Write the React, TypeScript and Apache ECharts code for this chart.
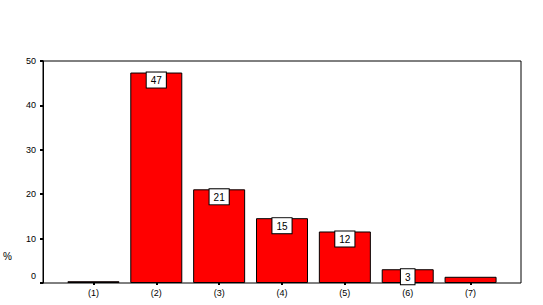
import React, { useEffect, useRef } from "react";
import * as echarts from "echarts";

const categories = ["(1)", "(2)", "(3)", "(4)", "(5)", "(6)", "(7)"];
const percentValues = [0.4, 47.4, 21.1, 14.6, 11.6, 3.1, 1.4];
const showLabel = [false, true, true, true, true, true, false];
const yTicks = { min: 0, max: 50, interval: 10 };

const FONT = "'Liberation Sans', Arial, sans-serif";

export default function App() {
  const ref = useRef<HTMLDivElement>(null);
  useEffect(() => {
    if (!ref.current) return;
    const chart = echarts.init(ref.current, null, { renderer: "svg" });
    chart.setOption({
      animation: false,
      backgroundColor: "#ffffff",
      textStyle: { fontFamily: FONT },
      grid: [
        {
          left: 43,
          top: 61,
          width: 478,
          height: 222,
          show: true,
          borderColor: "#000",
          borderWidth: 1,
          backgroundColor: "transparent",
        },
        { left: 62, top: 61, width: 440, height: 222 },
      ],
      xAxis: [
        { gridIndex: 0, type: "value", show: false, min: 0, max: 1 },
        {
          gridIndex: 1,
          type: "category",
          data: categories,
          axisLine: { show: false },
          axisTick: {
            show: true,
            alignWithLabel: true,
            length: 2,
            lineStyle: { color: "#000", width: 2 },
          },
          axisLabel: { color: "#000", fontSize: 9, margin: 5, fontFamily: FONT },
        },
      ],
      yAxis: [
        {
          gridIndex: 0,
          type: "value",
          min: yTicks.min,
          max: yTicks.max,
          interval: yTicks.interval,
          axisLine: { show: true, lineStyle: { color: "#000", width: 1 } },
          axisTick: { show: true, length: 3, lineStyle: { color: "#000", width: 2 } },
          splitLine: { show: false },
          axisLabel: {
            color: "#000",
            fontSize: 9,
            margin: 7,
            fontFamily: FONT,
            formatter: (v: number) => (v === 0 ? "{z|0}" : String(v)),
            rich: { z: { fontSize: 9, fontFamily: FONT, color: "#000", padding: [0, 0, 14, 0] } },
          },
        },
        { gridIndex: 1, type: "value", min: yTicks.min, max: yTicks.max, show: false },
      ],
      graphic: [
        {
          type: "text",
          left: 3,
          top: 251,
          style: { text: "%", fontSize: 10, fontFamily: FONT, fill: "#000" },
        },
      ],
      series: [
        {
          type: "bar",
          xAxisIndex: 1,
          yAxisIndex: 1,
          barWidth: 52,
          data: percentValues.map((v, i) => ({
            value: v,
            label: { show: showLabel[i] },
          })),
          itemStyle: { color: "#ff0000", borderColor: "#000", borderWidth: 1 },
          label: {
            position: "insideTop",
            distance: 0,
            formatter: (p: any) => String(Math.round(p.value)),
            color: "#000",
            fontSize: 10,
            fontFamily: FONT,
            backgroundColor: "#fff",
            borderColor: "#000",
            borderWidth: 1,
            borderRadius: 0,
            padding: [3, 4, 2, 4],
          },
        },
      ],
    });
    return () => chart.dispose();
  }, []);
  return (
    <div
      ref={ref}
      style={{ position: "fixed", left: 0, top: 0, width: 543, height: 305 }}
    />
  );
}
